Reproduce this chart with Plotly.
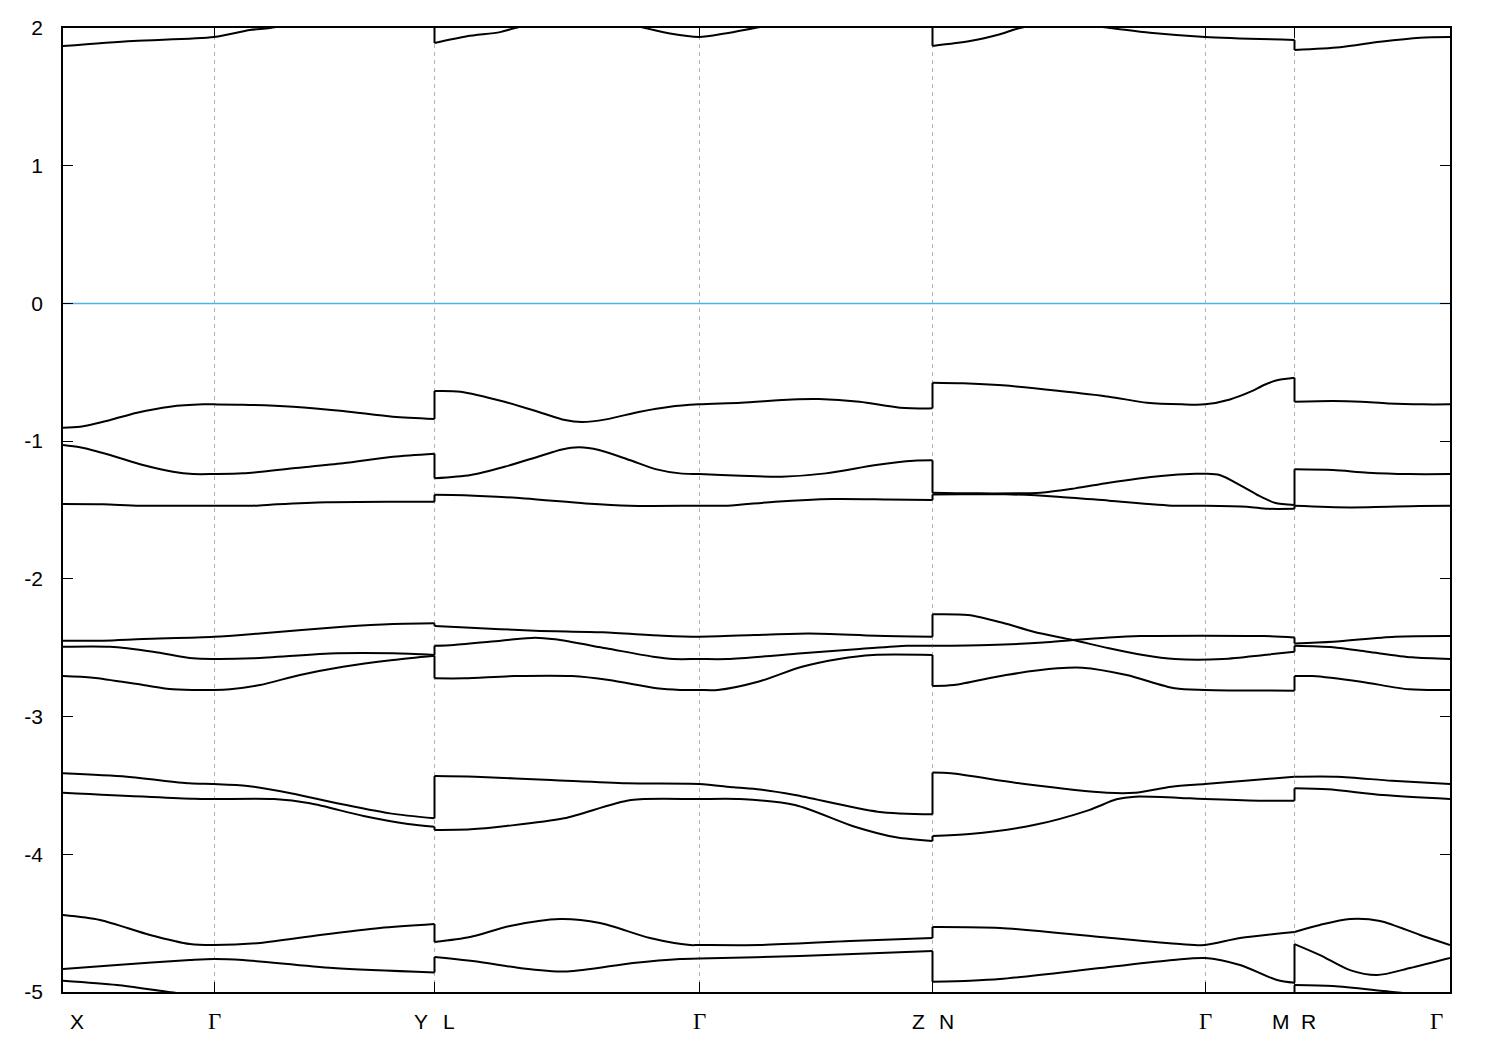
import plotly.graph_objects as go

# ---------------- data ----------------
# positions of high-symmetry points along the k-path (arbitrary path units)
sym_k = [0, 151, 371.5, 636, 869.5, 1142, 1231.5, 1387]
label_text = ["X", "Γ", "Y", "L", "Γ", "Z", "N", "Γ", "M", "R", "Γ"]
label_k = [0, 151, 371.5, 371.5, 636, 869.5, 869.5, 1142, 1231.5, 1231.5, 1387]
e_ticks = [2, 1, 0, -1, -2, -3, -4, -5]
e_tick_text = ["2", "1", "0", "-1", "-2", "-3", "-4", "-5"]
fermi_level = 0.0
e_range = [-5, 2]

# bands: k and E (eV); a repeated k marks a discontinuity of the path
band_T_k = [0, 70, 151, 187, 207, 257, 317, 371.5,
            371.5, 404, 437, 452, 497, 537, 582, 607, 636, 662, 692, 737, 797, 869.5,
            869.5, 907, 937, 957, 997, 1047, 1087, 1142, 1231.5,
            1231.5, 1277, 1317, 1357, 1387]
band_T_E = [1.869, 1.906, 1.935, 1.985, 2.0, 2.06, 2.1, 2.12,
            1.891, 1.94, 1.97, 2.0, 2.06, 2.07, 2.0, 1.96, 1.935, 1.96, 2.0, 2.06, 2.1, 2.12,
            1.87, 1.905, 1.955, 2.0, 2.04, 2.0, 1.965, 1.935, 1.913,
            1.84, 1.86, 1.9, 1.93, 1.935]

band_B_k = [0, 17, 47, 74, 107, 140, 151, 180, 230, 280, 330, 371.5,
            371.5, 397.6, 441.5, 475, 502, 519, 543, 577, 607, 636, 678, 729, 756, 796.5, 837, 869.5,
            869.5, 900, 939.6, 994.7, 1046, 1084, 1118.7, 1142, 1167, 1187.6, 1201, 1215, 1231.5,
            1231.5, 1270, 1298, 1325, 1359.8, 1387]
band_B_E = [-0.902, -0.895, -0.847, -0.794, -0.750, -0.733, -0.733, -0.735, -0.750, -0.781, -0.823, -0.839,
            -0.636, -0.641, -0.714, -0.786, -0.847, -0.861, -0.842, -0.786, -0.750, -0.733, -0.721, -0.697, -0.694, -0.714, -0.757, -0.762,
            -0.576, -0.580, -0.595, -0.634, -0.677, -0.721, -0.733, -0.733, -0.697, -0.641, -0.592, -0.556, -0.539,
            -0.714, -0.709, -0.714, -0.726, -0.733, -0.733]

band_C_k = [0, 17, 47, 80, 110, 130, 151, 180, 230, 280, 330, 371.5,
            371.5, 407.7, 441.5, 475, 499, 516, 536, 566.6, 593.6, 617, 636, 678, 718.7, 762.7, 813, 850.6, 869.5,
            869.5, 908.6, 977.5, 1012, 1046, 1098, 1132.5, 1142, 1156.6, 1177, 1194.5, 1211.7, 1231.5,
            1231.5, 1270, 1304.7, 1346, 1387]
band_C_E = [-1.028, -1.045, -1.101, -1.173, -1.222, -1.239, -1.239, -1.234, -1.197, -1.161, -1.113, -1.091,
            -1.270, -1.246, -1.186, -1.113, -1.060, -1.045, -1.064, -1.137, -1.205, -1.234, -1.239, -1.251, -1.258, -1.234, -1.173, -1.142, -1.139,
            -1.375, -1.379, -1.374, -1.343, -1.302, -1.253, -1.237, -1.237, -1.246, -1.319, -1.391, -1.447, -1.464,
            -1.205, -1.210, -1.229, -1.239, -1.239]

band_D_k = [0, 40, 77, 151, 190, 214, 264, 330, 371.5,
            371.5, 401, 461.8, 522.6, 566.6, 636, 664.6, 712, 769.5, 823.5, 869.5,
            869.5, 898, 943, 994.7, 1046, 1111.8, 1142, 1184, 1204.8, 1231.5,
            1231.5, 1287, 1356, 1387]
band_D_E = [-1.457, -1.459, -1.469, -1.469, -1.469, -1.459, -1.444, -1.440, -1.440,
            -1.389, -1.392, -1.416, -1.452, -1.469, -1.469, -1.469, -1.440, -1.420, -1.423, -1.428,
            -1.388, -1.386, -1.386, -1.403, -1.432, -1.469, -1.469, -1.476, -1.491, -1.491,
            -1.469, -1.481, -1.471, -1.469]

band_E_k = [0, 40, 80, 151, 197, 280, 330, 371.5,
            371.5, 397.6, 472, 539.6, 600, 636, 691.7, 745.8, 813, 869.5,
            869.5, 905, 939.6, 970.6, 1010, 1046, 1080, 1111.8, 1160, 1201, 1231.5,
            1231.5, 1270, 1304.7, 1349, 1387]
band_E_E = [-2.449, -2.449, -2.437, -2.420, -2.396, -2.348, -2.328, -2.323,
            -2.342, -2.352, -2.376, -2.388, -2.413, -2.420, -2.408, -2.396, -2.413, -2.420,
            -2.257, -2.263, -2.319, -2.384, -2.444, -2.504, -2.553, -2.582, -2.582, -2.553, -2.529,
            -2.486, -2.497, -2.529, -2.570, -2.582]

band_F_k = [0, 47, 90, 130, 151, 190, 274, 330, 371.5,
            371.5, 390.8, 438, 472, 492, 543, 590, 610.5, 636, 664.6, 739, 796.5, 843.8, 869.5,
            869.5, 925.9, 980, 1010, 1046, 1077, 1201, 1231.5,
            1231.5, 1270, 1332, 1387]
band_F_E = [-2.493, -2.493, -2.529, -2.577, -2.582, -2.577, -2.541, -2.541, -2.553,
            -2.486, -2.480, -2.449, -2.427, -2.439, -2.504, -2.565, -2.582, -2.582, -2.582, -2.541, -2.510, -2.486, -2.486,
            -2.486, -2.480, -2.463, -2.444, -2.425, -2.415, -2.415, -2.425,
            -2.469, -2.457, -2.420, -2.415]

band_G_k = [0, 30, 80, 110, 151, 167, 197, 237, 280, 330, 371.5,
            371.5, 401, 451.7, 509, 546, 593.6, 617, 636, 654.5, 695, 739, 776, 810, 869.5,
            869.5, 891, 943, 994.7, 1019, 1063.6, 1111.8, 1142, 1231.5,
            1231.5, 1249.6, 1298, 1346, 1387]
band_G_E = [-2.706, -2.718, -2.771, -2.802, -2.807, -2.802, -2.771, -2.698, -2.638, -2.589, -2.558,
            -2.722, -2.722, -2.706, -2.706, -2.735, -2.795, -2.807, -2.807, -2.807, -2.747, -2.638, -2.582, -2.553, -2.553,
            -2.778, -2.771, -2.698, -2.650, -2.645, -2.698, -2.795, -2.807, -2.812,
            -2.706, -2.706, -2.747, -2.802, -2.807]

band_H_k = [0, 64, 126.5, 151, 184.5, 229, 274, 327, 371.5,
            371.5, 412, 488, 564, 636, 671, 697, 732, 814.7, 869.5,
            869.5, 888, 961.7, 1044, 1072, 1108.6, 1142, 1182, 1231.5,
            1231.5, 1274, 1329, 1387]
band_H_E = [-3.412, -3.437, -3.485, -3.490, -3.504, -3.558, -3.630, -3.703, -3.739,
            -3.432, -3.437, -3.461, -3.485, -3.490, -3.514, -3.530, -3.570, -3.691, -3.710,
            -3.407, -3.412, -3.490, -3.553, -3.553, -3.509, -3.490, -3.466, -3.437,
            -3.437, -3.437, -3.466, -3.490]

band_I_k = [0, 131, 151, 211, 247, 300.6, 345, 371.5,
            371.5, 407.7, 443, 501, 568, 636, 677, 732, 791.8, 833, 869.5,
            869.5, 906.6, 970.8, 1026, 1053.5, 1072, 1127, 1142, 1195.8, 1231.5,
            1231.5, 1264.7, 1319.8, 1387]
band_I_E = [-3.553, -3.597, -3.599, -3.599, -3.630, -3.722, -3.780, -3.800,
            -3.824, -3.819, -3.795, -3.739, -3.606, -3.599, -3.599, -3.642, -3.800, -3.877, -3.904,
            -3.867, -3.853, -3.788, -3.679, -3.601, -3.582, -3.594, -3.599, -3.611, -3.611,
            -3.521, -3.528, -3.570, -3.599]

band_J_k = [0, 37, 87, 127, 151, 197, 257, 317, 371.5,
            371.5, 407, 447, 497, 537, 587, 627, 636, 697, 787, 869.5,
            869.5, 937, 1037, 1117, 1142, 1177, 1231.5,
            1231.5, 1257, 1287, 1317, 1357, 1387]
band_J_E = [-4.441, -4.477, -4.586, -4.652, -4.659, -4.644, -4.586, -4.535, -4.506,
            -4.637, -4.601, -4.521, -4.470, -4.499, -4.608, -4.659, -4.659, -4.659, -4.630, -4.608,
            -4.528, -4.535, -4.601, -4.652, -4.659, -4.608, -4.564,
            -4.564, -4.513, -4.470, -4.484, -4.586, -4.659]

band_K_k = [0, 54, 127, 151, 180, 270, 371.5,
            371.5, 417, 457, 504, 570, 617, 636, 737, 869.5,
            869.5, 907, 937, 1037, 1110, 1142, 1177, 1214, 1231.5,
            1231.5, 1257, 1287, 1314, 1347, 1387]
band_K_E = [-4.833, -4.804, -4.768, -4.760, -4.768, -4.826, -4.858,
            -4.746, -4.782, -4.826, -4.851, -4.789, -4.760, -4.757, -4.739, -4.703,
            -4.925, -4.918, -4.906, -4.826, -4.768, -4.753, -4.804, -4.913, -4.933,
            -4.652, -4.732, -4.841, -4.877, -4.826, -4.753]

band_L_k = [0, 54, 104, 151, 260, 371.5,
            371.5, 636, 869.5,
            869.5, 1142, 1231.5,
            1231.5, 1270, 1327, 1387]
band_L_E = [-4.918, -4.949, -4.998, -5.04, -5.08, -5.1,
            -5.1, -5.15, -5.1,
            -5.1, -5.15, -5.1,
            -4.950, -4.957, -4.998, -5.04]

bands = [
    (band_T_k, band_T_E), (band_B_k, band_B_E), (band_C_k, band_C_E),
    (band_D_k, band_D_E), (band_E_k, band_E_E), (band_F_k, band_F_E),
    (band_G_k, band_G_E), (band_H_k, band_H_E), (band_I_k, band_I_E),
    (band_J_k, band_J_E), (band_K_k, band_K_E), (band_L_k, band_L_E),
]

# ---------------- figure ----------------
fig = go.Figure()

# Fermi level
fig.add_trace(go.Scatter(x=[sym_k[0], sym_k[-1]], y=[fermi_level, fermi_level],
                         mode="lines", line=dict(color="#4fb2ea", width=1.6),
                         hoverinfo="skip", showlegend=False))

LW = 2.0
for ks, es in bands:
    pieces = []
    cur_k, cur_e = [ks[0]], [es[0]]
    for i in range(1, len(ks)):
        if ks[i] == ks[i - 1]:
            pieces.append((cur_k, cur_e))
            # vertical jump at discontinuity
            fig.add_trace(go.Scatter(x=[ks[i - 1], ks[i]], y=[es[i - 1], es[i]],
                                     mode="lines", line=dict(color="black", width=LW),
                                     hoverinfo="skip", showlegend=False))
            cur_k, cur_e = [ks[i]], [es[i]]
        else:
            cur_k.append(ks[i])
            cur_e.append(es[i])
    pieces.append((cur_k, cur_e))
    for pk, pe in pieces:
        fig.add_trace(go.Scatter(x=pk, y=pe, mode="lines",
                                 line=dict(color="black", width=LW, shape="spline", smoothing=0.8),
                                 hoverinfo="skip", showlegend=False))

# k-point labels (split labels sit either side of the discontinuity)
label_shift = [14, 0, -14, 14, 0, -14, 14, 0, -14, 14, -14]
for txt, kk, sh in zip(label_text, label_k, label_shift):
    is_greek = txt == "Γ"
    fig.add_annotation(x=kk, xref="x", y=0, yref="paper", text=txt, showarrow=False,
                       xanchor="center", yanchor="middle", xshift=sh, yshift=-29,
                       font=dict(family="Liberation Serif" if is_greek else "Liberation Sans",
                                 size=23 if is_greek else 21, color="black"))

fig.update_xaxes(range=[sym_k[0], sym_k[-1]], tickvals=sym_k, showticklabels=False,
                 ticks="inside", ticklen=10, tickwidth=1.3, tickcolor="black",
                 showgrid=True, gridcolor="#b4b4b4", gridwidth=1, griddash="4px,4px",
                 zeroline=False, showline=True, linecolor="black", linewidth=1.6,
                 mirror="ticks")
fig.update_yaxes(range=e_range, tickvals=e_ticks, ticktext=e_tick_text,
                 ticks="inside", ticklen=10, tickwidth=1.3, tickcolor="black",
                 showgrid=False, zeroline=False, showline=True, linecolor="black",
                 linewidth=1.6, mirror="ticks", ticklabelstandoff=14,
                 tickfont=dict(family="Liberation Sans", size=21, color="black"))

fig.update_layout(width=1500, height=1050,
                  margin=dict(l=55, r=58, t=20, b=66, autoexpand=False),
                  paper_bgcolor="white", plot_bgcolor="white", showlegend=False)

fig.write_html("out.html")
